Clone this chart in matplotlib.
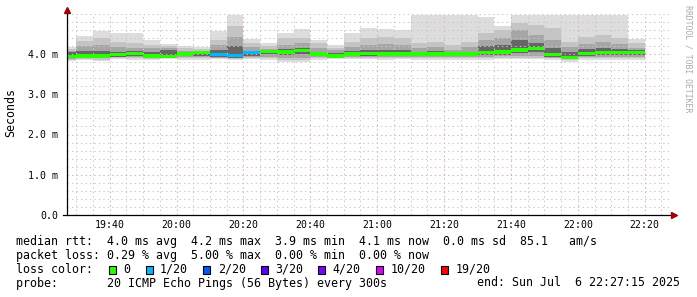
import matplotlib
matplotlib.use('Agg')
import matplotlib.dates as mdates
import pandas as pd
from matplotlib import pyplot
from matplotlib.patches import Rectangle
from matplotlib.ticker import MultipleLocator, FixedLocator

W, H = 697, 297

# 5 minute bins, the first one is cut by the window start
bin_first = '2025-07-06 19:25'
n_bins = 35
window_start = '2025-07-06 19:27:15'
window_end = '2025-07-06 22:27:15'

# smoke layers (ms): outer band = min..max, inner bands get darker
rtt_max = [4.18, 4.45, 4.58, 4.53, 4.53, 4.35, 4.26, 4.20, 4.18, 4.56, 4.97, 4.38,
           4.28, 4.53, 4.61, 4.35, 4.22, 4.53, 4.64, 4.61, 4.60, 4.97, 4.97, 4.97,
           4.97, 4.93, 4.70, 4.97, 4.97, 4.97, 4.97, 4.97, 4.97, 4.97, 4.37]
rtt_hi2 = [4.12, 4.33, 4.39, 4.31, 4.28, 4.22, 4.20, 4.14, 4.12, 4.35, 4.70, 4.27,
           4.20, 4.39, 4.39, 4.27, 4.16, 4.31, 4.39, 4.43, 4.39, 4.27, 4.31, 4.22,
           4.31, 4.52, 4.60, 4.76, 4.72, 4.64, 4.31, 4.41, 4.47, 4.39, 4.27]
rtt_hi3 = [4.08, 4.20, 4.22, 4.17, 4.15, 4.14, 4.14, 4.08, 4.08, 4.22, 4.43, 4.17,
           4.12, 4.22, 4.27, 4.14, 4.10, 4.17, 4.22, 4.25, 4.22, 4.14, 4.17, 4.10,
           4.17, 4.35, 4.39, 4.60, 4.47, 4.35, 4.18, 4.25, 4.31, 4.25, 4.14]
rtt_hi4 = [4.04, 4.08, 4.08, 4.06, 4.07, 4.06, 4.10, 4.04, 4.06, 4.10, 4.20, 4.08,
           4.09, 4.12, 4.14, 4.06, 4.03, 4.07, 4.10, 4.10, 4.10, 4.06, 4.08, 4.05,
           4.06, 4.20, 4.22, 4.35, 4.27, 4.16, 4.06, 4.12, 4.16, 4.12, 4.09]
rtt_median = [3.93, 3.95, 3.95, 3.99, 4.01, 3.95, 3.93, 4.00, 4.03, 3.99, 3.96, 4.03,
              4.06, 4.05, 4.08, 4.00, 3.95, 4.00, 4.02, 4.00, 4.00, 4.00, 4.00, 4.00,
              4.00, 4.04, 4.05, 4.10, 4.13, 3.99, 3.92, 4.01, 4.04, 4.04, 4.04]
rtt_lo4 = [3.89, 3.91, 3.91, 3.93, 3.94, 3.91, 3.90, 3.94, 3.96, 3.93, 3.91, 3.96,
           3.99, 3.98, 4.00, 3.94, 3.91, 3.94, 3.96, 3.94, 3.94, 3.94, 3.94, 3.94,
           3.94, 3.97, 3.98, 4.02, 4.05, 3.93, 3.87, 3.95, 3.97, 3.97, 3.97]
rtt_lo3 = [3.88, 3.90, 3.89, 3.92, 3.92, 3.90, 3.90, 3.92, 3.93, 3.91, 3.90, 3.93,
           3.93, 3.90, 3.90, 3.92, 3.90, 3.92, 3.93, 3.92, 3.92, 3.92, 3.92, 3.92,
           3.92, 3.93, 3.94, 3.95, 3.96, 3.91, 3.87, 3.92, 3.93, 3.93, 3.93]
rtt_lo2 = [3.86, 3.88, 3.86, 3.89, 3.89, 3.88, 3.89, 3.89, 3.89, 3.89, 3.88, 3.90,
           3.89, 3.85, 3.85, 3.89, 3.89, 3.89, 3.90, 3.89, 3.89, 3.89, 3.89, 3.89,
           3.89, 3.89, 3.90, 3.90, 3.91, 3.89, 3.85, 3.89, 3.89, 3.89, 3.89]
rtt_min = [3.83, 3.85, 3.83, 3.87, 3.86, 3.86, 3.87, 3.86, 3.86, 3.87, 3.85, 3.87,
           3.86, 3.81, 3.81, 3.86, 3.87, 3.87, 3.87, 3.86, 3.87, 3.86, 3.86, 3.86,
           3.86, 3.86, 3.87, 3.87, 3.87, 3.86, 3.81, 3.86, 3.86, 3.86, 3.86]
# lost pings per bin (out of 20)
loss = [0, 0, 0, 0, 0, 0, 0, 0, 0, 1, 1, 1, 0, 0, 0, 0, 0, 0, 0, 0, 0, 0, 0, 0,
        0, 0, 0, 0, 0, 0, 0, 0, 0, 0, 0]

loss_labels = ['0', '1/20', '2/20', '3/20', '4/20', '10/20', '19/20']
loss_steps = [0, 1, 2, 3, 4, 10, 19]
loss_colors = ['#26ff00', '#00b8ff', '#0059ff', '#5e00ff', '#7e00ff', '#dd00ff', '#ff0000']

y_ticks = [0, 1, 2, 3, 4]
y_tick_labels = ['0.0', '1.0 m', '2.0 m', '3.0 m', '4.0 m']

rtt_stats = [('4.0', 'avg'), ('4.2', 'max'), ('3.9', 'min'), ('4.1', 'now'), ('0.0', 'sd')]
rtt_am = '85.1'
loss_stats = [('0.29', 'avg'), ('5.00', 'max'), ('0.00', 'min'), ('0.00', 'now')]
probe_text = '20 ICMP Echo Pings (56 Bytes) every 300s'
end_text = 'end: Sun Jul  6 22:27:15 2025'


def color_for_loss(n):
    col = loss_colors[0]
    for step, c in zip(loss_steps, loss_colors):
        if n >= step:
            col = c
    return col


def main():
    pyplot.rcParams['font.family'] = ['DejaVu Sans Mono']
    fig = pyplot.figure(figsize=(W / 100, H / 100), dpi=100)
    ax = fig.add_axes([67 / W, 1 - 215 / H, 602 / W, (215 - 13.75) / H])

    starts = mdates.date2num(pd.date_range(bin_first, periods=n_bins, freq='5min'))
    width = 5 / 1440

    layers = [(rtt_min, rtt_max, '#dddddd'),
              (rtt_lo2, rtt_hi2, '#c4c4c4'),
              (rtt_lo3, rtt_hi3, '#a6a6a6'),
              (rtt_lo4, rtt_hi4, '#666666')]
    for lo, hi, col in layers:
        ax.bar(starts, [h - l for l, h in zip(lo, hi)], bottom=lo, width=width,
               align='edge', color=col, linewidth=0, zorder=1)

    med_cols = [color_for_loss(n) for n in loss]
    ax.bar(starts, 0.08, bottom=[m - 0.04 for m in rtt_median], width=width,
           align='edge', color=med_cols, linewidth=0, zorder=3)

    ax.set_xlim(mdates.date2num(pd.Timestamp(window_start)), mdates.date2num(pd.Timestamp(window_end)))
    ax.set_ylim(0, 5.0)

    ax.xaxis.set_major_locator(mdates.MinuteLocator(byminute=[0, 20, 40]))
    ax.xaxis.set_minor_locator(mdates.MinuteLocator(byminute=range(0, 60, 5)))
    ax.xaxis.set_major_formatter(mdates.DateFormatter('%H:%M'))
    ax.yaxis.set_major_locator(FixedLocator(y_ticks))
    ax.yaxis.set_minor_locator(MultipleLocator(0.2))
    ax.set_yticklabels(y_tick_labels)

    ax.set_axisbelow(False)
    ax.grid(which='minor', color='#c8c8c8', lw=0.75, linestyle=(0, (1.3, 3.0)))
    ax.grid(which='major', color='#e8a8a8', lw=0.75, linestyle=(0, (1.3, 3.0)))
    ax.tick_params(which='both', length=0, labelsize=7.1, colors='#000000')
    ax.tick_params(axis='y', pad=6.5)
    ax.tick_params(axis='x', pad=3.5)
    for s in ax.spines.values():
        s.set_visible(False)

    # axis lines with the rrdtool style arrows
    ax.plot([-0.007, 1.006], [0, 0], transform=ax.transAxes, color='black', lw=0.9,
            clip_on=False, zorder=6)
    ax.plot([0, 0], [0, 1.01], transform=ax.transAxes, color='black', lw=0.9,
            clip_on=False, zorder=6)
    ax.plot([0], [1.02], transform=ax.transAxes, marker='^', ms=3.8, color='#a00000',
            clip_on=False, zorder=7)
    ax.plot([1.008], [0], transform=ax.transAxes, marker='>', ms=3.8, color='#a00000',
            clip_on=False, zorder=7)

    fig.text(11 / W, 1 - 113 / H, 'Seconds', rotation=90, ha='center', va='center', fontsize=8.4)
    fig.text(688 / W, 1 - 5 / H, 'RRDTOOL / TOBI OETIKER', rotation=270, ha='center', va='top',
             fontsize=5.9, color='#aaaaaa')

    line1 = 'median rtt:  ' + '  '.join(f'{v} ms {t}' for v, t in rtt_stats) + f'  {rtt_am}   am/s'
    line2 = 'packet loss: ' + '  '.join(f'{v} % {t}' for v, t in loss_stats)
    line4 = 'probe:       ' + probe_text
    fig.text(16 / W, 1 - 241.5 / H, line1, ha='left', va='center', fontsize=8.4)
    fig.text(16 / W, 1 - 255.5 / H, line2, ha='left', va='center', fontsize=8.4)
    fig.text(16 / W, 1 - 269.5 / H, 'loss color:', ha='left', va='center', fontsize=8.4)
    fig.text(16 / W, 1 - 283 / H, line4, ha='left', va='center', fontsize=8.4)
    fig.text(680 / W, 1 - 283 / H, end_text, ha='right', va='center', fontsize=8.4)

    char_w = 7.03
    x = 109
    for lab, col in zip(loss_labels, loss_colors):
        fig.add_artist(Rectangle((x / W, 1 - 274 / H), 7 / W, 8.5 / H, transform=fig.transFigure,
                                 facecolor=col, edgecolor='black', lw=0.8))
        lx = x + 14.5
        fig.text(lx / W, 1 - 269.5 / H, lab, ha='left', va='center', fontsize=8.4)
        x = lx + len(lab) * char_w + 15

    fig.savefig('out.png', dpi=100, facecolor='white')
    pyplot.close()


if __name__ == '__main__':
    main()
